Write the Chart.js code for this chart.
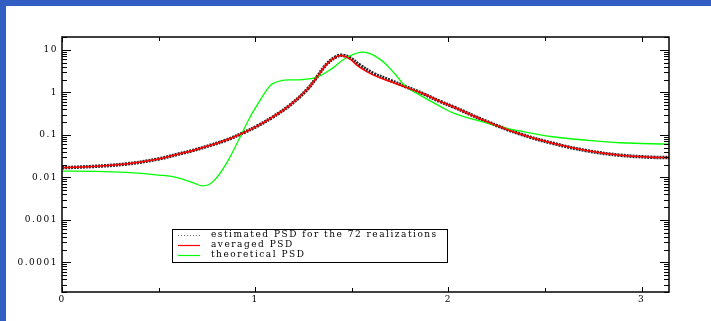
<!DOCTYPE html>
<html>
<head>
<meta charset="utf-8">
<script src="https://cdn.jsdelivr.net/npm/chart.js@4.4.1/dist/chart.umd.min.js"></script>
<style>
html, body { margin: 0; padding: 0; background: #fff; }
</style>
</head>
<body>
<canvas id="grafica-psd" width="711" height="321"></canvas>
<script>
// Frequencies (rad) and PSD values
const freqEstimada = [0, 0.16, 0.33, 0.5, 0.6, 0.68, 0.77, 0.85, 0.94, 1.01, 1.09, 1.18, 1.27, 1.32, 1.37, 1.42, 1.45, 1.49, 1.54, 1.61, 1.70, 1.78, 1.87, 1.96, 2.03, 2.2, 2.37, 2.54, 2.72, 2.89, 3.06, 3.1416];
const psdEstimada = [0.0168, 0.018, 0.0205, 0.027, 0.035, 0.043, 0.057, 0.075, 0.112, 0.16, 0.26, 0.50, 1.18, 2.3, 4.6, 6.9, 7.4, 6.5, 4.4, 2.8, 1.9, 1.35, 0.92, 0.60, 0.445, 0.204, 0.105, 0.063, 0.042, 0.033, 0.0295, 0.029];

const freqMitjana = [0, 0.16, 0.33, 0.5, 0.6, 0.68, 0.77, 0.85, 0.94, 1.01, 1.09, 1.18, 1.27, 1.32, 1.37, 1.42, 1.45, 1.49, 1.54, 1.61, 1.70, 1.78, 1.87, 1.96, 2.03, 2.2, 2.37, 2.54, 2.72, 2.89, 3.06, 3.1416];
const psdMitjana = [0.0168, 0.018, 0.0205, 0.027, 0.035, 0.043, 0.057, 0.075, 0.112, 0.16, 0.26, 0.50, 1.18, 2.3, 4.6, 6.9, 7.3, 6.1, 3.9, 2.57, 1.79, 1.32, 0.92, 0.60, 0.445, 0.204, 0.105, 0.063, 0.042, 0.033, 0.0295, 0.029];

const freqTeorica = [0, 0.17, 0.33, 0.5, 0.59, 0.68, 0.73, 0.78, 0.85, 0.92, 0.97, 1.01, 1.06, 1.09, 1.15, 1.23, 1.32, 1.40, 1.47, 1.56, 1.65, 1.72, 1.78, 1.85, 1.96, 2.03, 2.2, 2.28, 2.37, 2.54, 2.72, 2.89, 3.1416];
const psdTeorica = [0.014, 0.0138, 0.013, 0.0113, 0.010, 0.0074, 0.0063, 0.0078, 0.021, 0.085, 0.245, 0.5, 1.14, 1.6, 1.93, 1.97, 2.27, 3.7, 6.4, 8.8, 5.8, 2.8, 1.36, 0.87, 0.46, 0.32, 0.187, 0.15, 0.123, 0.09, 0.074, 0.065, 0.06];

const etiquetesSerie = ["estimated PSD for the 72 realizations", "averaged PSD", "theoretical PSD"];

const ticksX = [0, 1, 2, 3];
const etiquetesX = ["0", "1", "2", "3"];
const ticksY = [0.0001, 0.001, 0.01, 0.1, 1, 10];
const etiquetesY = ["0.0001", "0.001", "0.01", "0.1", "1", "10"];

const font = { family: "DejaVu Serif", size: 9 };
const espaiat = "1.5px";

function punts(xs, ys) {
    return xs.map((x, i) => ({ x: x, y: ys[i] }));
}

// frame, inward ticks and the boxed legend
const marcPlugin = {
    id: "marc",
    beforeLayout(chart) {
        chart.ctx.letterSpacing = espaiat;
    },
    beforeDraw(chart) {
        const ctx = chart.ctx;
        ctx.letterSpacing = espaiat;
        ctx.save();
        ctx.fillStyle = "#fff";
        ctx.fillRect(0, 0, chart.width, chart.height);
        ctx.fillStyle = "#325ec4";
        ctx.fillRect(0, 0, chart.width, 6);
        ctx.fillRect(0, 0, 6, chart.height);
        ctx.restore();
    },
    afterDatasetsDraw(chart) {
        const ctx = chart.ctx;
        const a = chart.chartArea;
        const x = chart.scales.x;
        const y = chart.scales.y;
        ctx.save();
        ctx.strokeStyle = "#000";
        ctx.lineWidth = 1;
        ctx.beginPath();
        for (let e = -5; e <= 1; e++) {
            for (let m = 1; m <= 9; m++) {
                const v = m * Math.pow(10, e);
                if (v < y.min * 0.999 || v > y.max) continue;
                const py = Math.round(y.getPixelForValue(v)) + 0.5;
                const len = m === 1 ? 9 : 5;
                ctx.moveTo(a.left, py); ctx.lineTo(a.left + len, py);
                ctx.moveTo(a.right, py); ctx.lineTo(a.right - len, py);
            }
        }
        for (let t = 0; t <= x.max; t += 0.5) {
            const px = Math.round(x.getPixelForValue(t)) + 0.5;
            const len = t % 1 === 0 ? 5 : 4;
            ctx.moveTo(px, a.bottom); ctx.lineTo(px, a.bottom - len);
            ctx.moveTo(px, a.top); ctx.lineTo(px, a.top + len);
        }
        ctx.stroke();
        ctx.lineWidth = 1.5;
        ctx.strokeRect(a.left, a.top, a.right - a.left, a.bottom - a.top);

        // legend
        const lx = a.left + 110, ly = a.top + 192, lw = 275, lh = 33;
        ctx.lineWidth = 1;
        ctx.strokeStyle = "#000";
        ctx.fillStyle = "#fff";
        ctx.fillRect(lx, ly, lw, lh);
        ctx.strokeRect(lx + 0.5, ly + 0.5, lw, lh);
        const estils = [
            { color: "#666", width: 1, dash: [1, 2] },
            { color: "#ff0000", width: 1.2, dash: [] },
            { color: "#00ff00", width: 1.2, dash: [] }
        ];
        ctx.font = font.size + "px " + font.family;
        ctx.textBaseline = "middle";
        ctx.textAlign = "left";
        etiquetesSerie.forEach((txt, i) => {
            const ry = ly + 6 + i * 10;
            ctx.beginPath();
            ctx.strokeStyle = estils[i].color;
            ctx.lineWidth = estils[i].width;
            ctx.setLineDash(estils[i].dash);
            ctx.moveTo(lx + 6, ry + 0.5);
            ctx.lineTo(lx + 28, ry + 0.5);
            ctx.stroke();
            ctx.setLineDash([]);
            ctx.fillStyle = "#000";
            ctx.fillText(txt, lx + 39, ry);
        });
        ctx.restore();
    }
};

const ctx = document.getElementById("grafica-psd").getContext("2d");

new Chart(ctx, {
    type: "line",
    data: {
        datasets: [
            {
                label: etiquetesSerie[0],
                data: punts(freqEstimada, psdEstimada),
                borderColor: "rgba(0, 0, 0, 0.85)",
                borderWidth: 3.5,
                borderDash: [2, 1],
                pointRadius: 0,
                tension: 0.4,
                order: 3
            },
            {
                label: etiquetesSerie[1],
                data: punts(freqMitjana, psdMitjana),
                borderColor: "#ff0000",
                borderWidth: 1.6,
                pointRadius: 0,
                tension: 0.4,
                order: 1
            },
            {
                label: etiquetesSerie[2],
                data: punts(freqTeorica, psdTeorica),
                borderColor: "#00ff00",
                borderWidth: 1.3,
                pointRadius: 0,
                tension: 0.4,
                order: 2
            }
        ]
    },
    options: {
        responsive: false,
        animation: false,
        devicePixelRatio: 1,
        layout: { padding: { left: 6, top: 37, right: 42, bottom: 0 } },
        plugins: {
            legend: { display: false },
            tooltip: { enabled: false }
        },
        scales: {
            x: {
                type: "linear",
                min: 0,
                max: Math.PI,
                afterBuildTicks: (s) => { s.ticks = ticksX.map(v => ({ value: v })); },
                afterFit: (s) => { s.height = 29; },
                grid: { display: false, drawTicks: false },
                border: { display: false },
                ticks: {
                    callback: (v, i) => etiquetesX[i],
                    font: font,
                    color: "#000",
                    padding: 2,
                    maxRotation: 0,
                    autoSkip: false
                }
            },
            y: {
                type: "logarithmic",
                min: 2e-5,
                max: 20,
                afterBuildTicks: (s) => { s.ticks = ticksY.map(v => ({ value: v })); },
                afterFit: (s) => { s.width = 56; },
                grid: { display: false, drawTicks: false },
                border: { display: false },
                ticks: {
                    callback: (v, i) => etiquetesY[i],
                    font: font,
                    color: "#000",
                    padding: 4,
                    autoSkip: false
                }
            }
        }
    },
    plugins: [marcPlugin]
});
</script>
</body>
</html>
